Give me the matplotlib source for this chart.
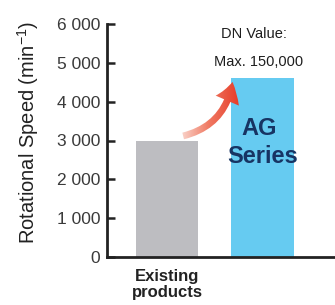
import numpy as np
import matplotlib
matplotlib.use("Agg")
import matplotlib.pyplot as plt
from matplotlib.patches import FancyArrowPatch
from matplotlib.colors import LinearSegmentedColormap

plt.rcParams['font.family'] = ['Liberation Sans', 'DejaVu Sans']
plt.rcParams['mathtext.fontset'] = 'custom'
plt.rcParams['mathtext.rm'] = 'Liberation Sans'
plt.rcParams['mathtext.it'] = 'Liberation Sans'

# data
categories = ['Existing\nproducts', '']
speeds = [3000, 4600]
bar_colors = ['#bdbdc1', '#66cbf1']
yticks = [0, 1000, 2000, 3000, 4000, 5000, 6000]
ytick_labels = ['0', '1 000', '2 000', '3 000', '4 000', '5 000', '6 000']

fig = plt.figure(figsize=(3.35, 3.05), dpi=100)
ax = fig.add_axes([107 / 335, 48 / 305, 1 - 107 / 335, 233 / 305])

x = np.arange(len(speeds))
ax.bar(x, speeds, width=0.65, color=bar_colors, zorder=2)

ax.set_xlim(-0.63, 1.76)
ax.set_ylim(0, 6000)
ax.set_yticks(yticks)
ax.set_yticklabels(ytick_labels, fontsize=12.5, color='#3a3a3a')
ax.tick_params(axis='y', direction='in', length=6, width=1.8, pad=5, color='#222222')
ax.set_xticks([])
for s in ['top', 'right']:
    ax.spines[s].set_visible(False)
for s in ['left', 'bottom']:
    ax.spines[s].set_linewidth(2)
    ax.spines[s].set_color('#222222')

# category label under the grey bar
ax.text(x[0], -300, categories[0], ha='center', va='top', fontsize=12,
        fontweight='bold', color='#222222', linespacing=1.15, clip_on=False)

# text inside the blue bar
ax.text(x[1] - 0.03, 3300, 'AG', ha='center', va='center', fontsize=17,
        fontweight='bold', color='#173463')
ax.text(x[1], 2600, 'Series', ha='center', va='center', fontsize=17,
        fontweight='bold', color='#173463')

# DN value note above
ax.text(x[1] - 0.09, 5730, 'DN Value:', ha='center', va='center', fontsize=10.5,
        color='#1e1e1e')
ax.text(x[1] - 0.04, 5030, 'Max. 150,000', ha='center', va='center', fontsize=10.5,
        color='#1e1e1e')

# curved red arrow with gradient
arrow = FancyArrowPatch((0.14, 3100), (0.69, 4580),
                        connectionstyle='arc3,rad=0.35',
                        arrowstyle='simple,head_width=1.3,head_length=1.0,tail_width=0.35',
                        mutation_scale=14, facecolor='none', edgecolor='none', zorder=3)
ax.add_patch(arrow)
cmap = LinearSegmentedColormap.from_list('redfade', ['#fbe3dc', '#f07a63', '#e63b27'])
grad = np.linspace(0, 1, 256).reshape(1, -1)
img = ax.imshow(grad, cmap=cmap, extent=(0.1, 0.75, 3000, 4700), aspect='auto',
                zorder=3, interpolation='bicubic')
img.set_clip_path(arrow)
ax.set_xlim(-0.63, 1.76)
ax.set_ylim(0, 6000)

fig.text(28 / 335, 1 - 132 / 305, r'Rotational Speed (min$^{-1}$)', rotation=90,
         ha='center', va='center', fontsize=14.5, color='#222222')

fig.savefig('out.png', dpi=100)
